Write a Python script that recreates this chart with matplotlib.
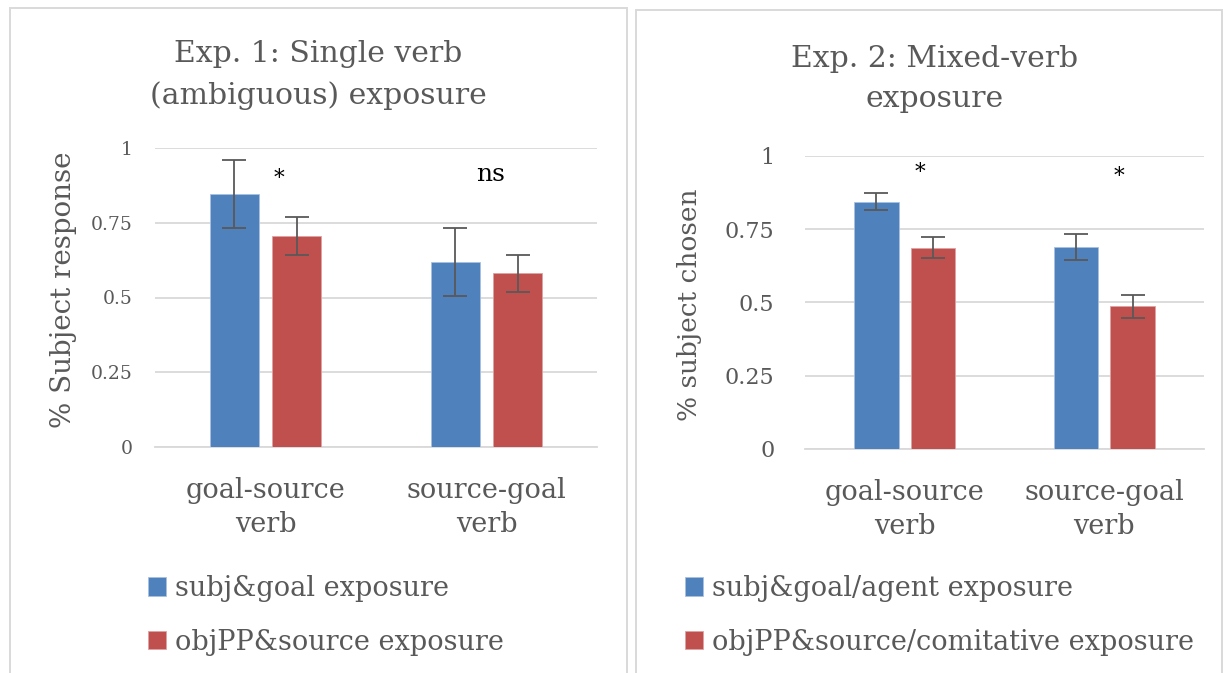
import numpy as np
import matplotlib
matplotlib.use("Agg")
import matplotlib.pyplot as plt
from matplotlib.patches import Rectangle

plt.rcParams['font.family'] = ['DejaVu Serif']

# data
categories = ["goal-source\nverb", "source-goal\nverb"]

exp1_title = "Exp. 1: Single verb\n(ambiguous) exposure"
exp1_ylabel = "% Subject response"
exp1_labels = ["subj&goal exposure", "objPP&source exposure"]
exp1_subj = [0.847, 0.619]
exp1_subj_err = [0.115, 0.115]
exp1_obj = [0.707, 0.581]
exp1_obj_err = [0.064, 0.063]
exp1_marks = ["*", "ns"]
exp1_mark_y = [0.896, 0.911]

exp2_title = "Exp. 2: Mixed-verb\nexposure"
exp2_ylabel = "% subject chosen"
exp2_labels = ["subj&goal/agent exposure", "objPP&source/comitative exposure"]
exp2_subj = [0.844, 0.689]
exp2_subj_err = [0.030, 0.043]
exp2_obj = [0.687, 0.486]
exp2_obj_err = [0.035, 0.039]
exp2_marks = ["*", "*"]
exp2_mark_y = [0.941, 0.929]

yticks = [0, 0.25, 0.5, 0.75, 1]
ytick_labels = ["0", "0.25", "0.5", "0.75", "1"]

BLUE = "#4F81BD"
RED = "#C0504D"
GREY = "#595959"
GRID = "#D9D9D9"

W, H = 1225, 673
fig = plt.figure(figsize=(W / 100, H / 100), dpi=100)


def px(x0, y_top, x1, y_bot):
    return [x0 / W, 1 - y_bot / H, (x1 - x0) / W, (y_bot - y_top) / H]


# panel frames
for x0, y0, x1 in [(10, 8, 627), (636, 10, 1222)]:
    fig.patches.append(Rectangle((x0 / W, -0.01), (x1 - x0) / W, 1 - y0 / H + 0.01,
                                 transform=fig.transFigure, fill=False,
                                 edgecolor=GRID, linewidth=1.4))


def panel(rect, title, title_xy, ylabel, ylabel_xy, ylabel_size, subj, subj_err, obj, obj_err,
          marks, mark_y, mark_dx, labels, tick_size, tick_pad, legend_xy):
    ax = fig.add_axes(rect)
    x = np.arange(len(categories))
    w = 0.222
    off = 0.142
    b1 = ax.bar(x - off, subj, w, color=BLUE, edgecolor="#A9C1E0", linewidth=0.6,
                yerr=subj_err, error_kw=dict(ecolor=GREY, elinewidth=1.3, capsize=8.5, capthick=1.3),
                label=labels[0], zorder=3)
    b2 = ax.bar(x + off, obj, w, color=RED, edgecolor="#DDA3A2", linewidth=0.6,
                yerr=obj_err, error_kw=dict(ecolor=GREY, elinewidth=1.3, capsize=8.5, capthick=1.3),
                label=labels[1], zorder=3)
    for xi, m, my, dx in zip(x, marks, mark_y, mark_dx):
        ax.text(xi + dx, my, m, ha="center", va="center", fontsize=18 if m != "*" else 15.5,
                color="black", zorder=4)
    ax.set_xlim(-0.5, 1.5)
    ax.set_ylim(0, 1)
    ax.set_yticks(yticks)
    ax.set_yticklabels(ytick_labels)
    ax.set_xticks(x)
    ax.set_xticklabels(categories, fontsize=19.5, color=GREY, linespacing=1.3)
    ax.tick_params(axis="y", length=0, pad=tick_pad, labelsize=tick_size, labelcolor=GREY)
    ax.tick_params(axis="x", length=0, pad=22)
    ax.grid(axis="y", color=GRID, linewidth=1.3, zorder=0)
    for s in ["top", "right", "left"]:
        ax.spines[s].set_visible(False)
    ax.spines["bottom"].set_color(GRID)
    ax.spines["bottom"].set_linewidth(1.3)
    ax.set_axisbelow(True)
    fig.text(title_xy[0] / W, 1 - title_xy[1] / H, title, ha="center", va="center",
             fontsize=21.5, color=GREY, linespacing=1.55)
    fig.text(ylabel_xy[0] / W, 1 - ylabel_xy[1] / H, ylabel, rotation=90, ha="center",
             va="center", fontsize=ylabel_size, color=GREY)
    fig.legend(handles=[b1, b2], labels=labels, loc="upper left",
               bbox_to_anchor=(legend_xy[0] / W, 1 - legend_xy[1] / H),
               frameon=False, fontsize=19.5, labelcolor=GREY, handlelength=0.65,
               handleheight=0.65, handletextpad=0.35, labelspacing=0.98,
               borderpad=0, borderaxespad=0)
    return ax


panel(px(155, 148.3, 597, 446.7), exp1_title, (318, 75), exp1_ylabel, (64, 290), 20,
      exp1_subj, exp1_subj_err, exp1_obj, exp1_obj_err, exp1_marks, exp1_mark_y,
      [0.061, 0.02], exp1_labels, 13.5, 16, (148, 575))
panel(px(805, 156, 1204, 448.7), exp2_title, (935, 79), exp2_ylabel, (690, 305), 19,
      exp2_subj, exp2_subj_err, exp2_obj, exp2_obj_err, exp2_marks, exp2_mark_y,
      [0.075, 0.075], exp2_labels, 16, 22, (685, 575))

fig.savefig("out.png", dpi=100)
